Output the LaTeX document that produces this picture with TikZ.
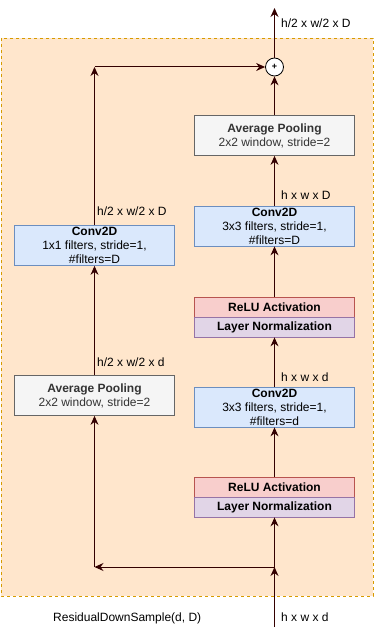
\documentclass[tikz,border=0pt]{standalone}
\usepackage{fontspec}
\setmainfont{Liberation Sans}
\usetikzlibrary{arrows.meta}
\definecolor{bgfill}{HTML}{FFE6CC}
\definecolor{bgline}{HTML}{D79B00}
\definecolor{grayfill}{HTML}{F5F5F5}
\definecolor{grayline}{HTML}{666666}
\definecolor{graytext}{HTML}{333333}
\definecolor{bluefill}{HTML}{DAE8FC}
\definecolor{blueline}{HTML}{6C8EBF}
\definecolor{redfill}{HTML}{F8CECC}
\definecolor{redline}{HTML}{B85450}
\definecolor{purpfill}{HTML}{E1D5E7}
\definecolor{purpline}{HTML}{9673A6}
\definecolor{arrowcol}{HTML}{330000}
\tikzset{
  box/.style={draw, line width=0.8pt, minimum width=160pt, inner sep=0pt, align=center,
    font=\fontsize{12}{14}\selectfont},
  poolbox/.style={box, fill=grayfill, draw=grayline, text=graytext, minimum height=40pt},
  convbox/.style={box, fill=bluefill, draw=blueline, minimum height=40pt},
  relubox/.style={box, fill=redfill, draw=redline, minimum height=20pt},
  normbox/.style={box, fill=purpfill, draw=purpline, minimum height=20pt},
  flow/.style={draw=arrowcol, line width=1pt, -{Stealth[length=9pt,width=8pt,inset=3pt]}},
  lbl/.style={anchor=west, inner sep=0pt, font=\fontsize{12}{14}\selectfont}
}
\begin{document}
\begin{tikzpicture}[x=1pt,y=-1pt]
\useasboundingbox (0,0) rectangle (375,636);
\draw[fill=bgfill, draw=bgline, line width=0.8pt, dash pattern=on 3pt off 3pt] (1,38) rectangle (373,596);

% right column
\node[poolbox] (apR) at (274.5,135.5) {\textbf{Average Pooling}\\2x2 window, stride=2};
\node[convbox] (convRD) at (274.5,226) {\textbf{Conv2D}\\3x3 filters, stride=1,\\\#filters=D};
\node[relubox] (reluA) at (274.5,307) {\textbf{ReLU Activation}};
\node[normbox] (lnA) at (274.5,327) {\textbf{Layer Normalization}};
\node[convbox] (convRd) at (274.5,407) {\textbf{Conv2D}\\3x3 filters, stride=1,\\\#filters=d};
\node[relubox] (reluB) at (274.5,487) {\textbf{ReLU Activation}};
\node[normbox] (lnB) at (274.5,507) {\textbf{Layer Normalization}};

% left column
\node[poolbox] (apL) at (94.5,395.5) {\textbf{Average Pooling}\\2x2 window, stride=2};
\node[convbox] (convL) at (94.5,245.5) {\textbf{Conv2D}\\1x1 filters, stride=1,\\\#filters=D};

% plus
\node[circle, draw=black, fill=white, line width=0.8pt, minimum size=18pt, inner sep=0pt,
  font=\fontsize{9}{9}\selectfont\bfseries] (plus) at (274.5,67) {+};

\coordinate (in) at (274.5,627);
\coordinate (split) at (274.5,567);
\coordinate (lcorner) at (94.5,567);
\coordinate (topL) at (94.5,67);
\coordinate (out) at (274.5,8);

% connectors
\draw[flow] (in) -- (split);
\draw[flow] (split) -- (lnB.south);
\draw[flow] (split) -- (lcorner);
\draw[flow] (lcorner) -- (apL.south);
\draw[flow] (apL.north) -- (convL.south);
\draw[flow] (convL.north) -- (topL);
\draw[flow] (topL) -- (plus.west);
\draw[flow] (reluB.north) -- (convRd.south);
\draw[flow] (convRd.north) -- (lnA.south);
\draw[flow] (reluA.north) -- (convRD.south);
\draw[flow] (convRD.north) -- (apR.south);
\draw[flow] (apR.north) -- (plus.south);
\draw[flow] (plus.north) -- (out);

% labels
\node[lbl] (l1) at (281,23) {h/2 x w/2 x D};
\node[lbl] (l2) at (281,195) {h x w x D};
\node[lbl] (l3) at (281,377) {h x w x d};
\node[lbl] (l4) at (281,617) {h x w x d};
\node[lbl] (l5) at (97,211) {h/2 x w/2 x D};
\node[lbl] (l6) at (97,362) {h/2 x w/2 x d};
\node[lbl] (l7) at (53,618) {ResidualDownSample(d, D)};
\end{tikzpicture}
\end{document}
